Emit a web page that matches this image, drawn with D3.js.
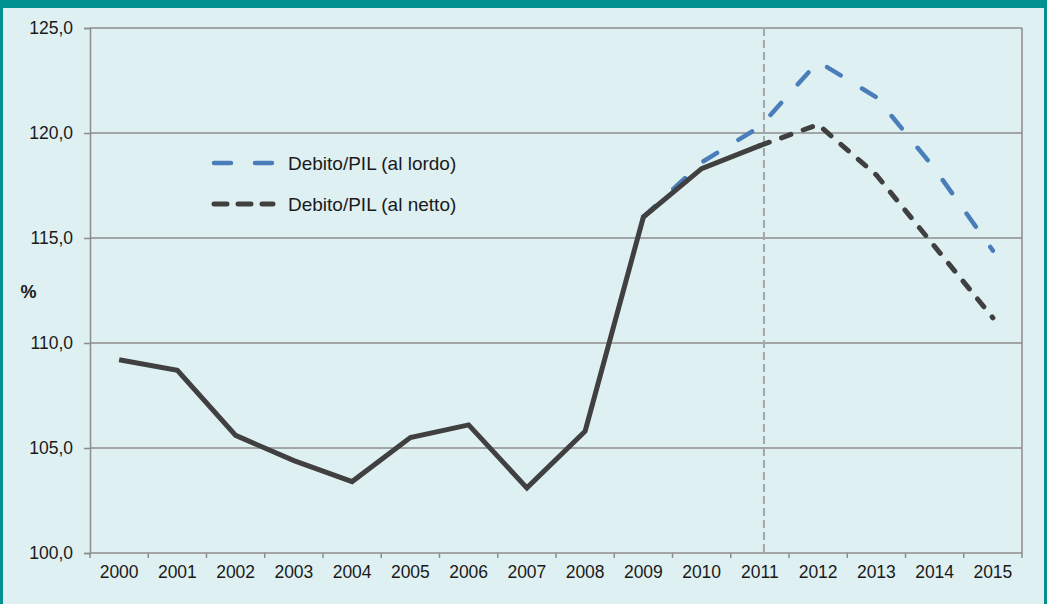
<!DOCTYPE html>
<html>
<head>
<meta charset="utf-8">
<script src="https://cdn.jsdelivr.net/npm/d3@7"></script>
<style>
  html, body { margin: 0; padding: 0; background: #dff0f2; }
  svg { display: block; font-family: "Liberation Sans", Arial, sans-serif; }
</style>
</head>
<body>
<svg id="chart" width="1047" height="604"></svg>
<script>
const years = ['2000', '2001', '2002', '2003', '2004', '2005', '2006', '2007', '2008',
  '2009', '2010', '2011', '2012', '2013', '2014', '2015'];
// storico (linea continua) 2000-2011
const storico = [109.2, 108.7, 105.6, 104.4, 103.4, 105.5, 106.1, 103.1, 105.8, 116.0, 118.3, 119.4];
// debito/PIL al lordo 2009-2015
const lordoYears = ['2009', '2010', '2011', '2012', '2013', '2014', '2015'];
const lordo = [116.0, 118.6, 120.3, 123.4, 121.7, 118.3, 114.4];
// debito/PIL al netto 2011-2015
const nettoYears = ['2011', '2012', '2013', '2014', '2015'];
const netto = [119.4, 120.4, 118.0, 114.6, 111.2];
const yTicks = [100, 105, 110, 115, 120, 125];

const W = 1047, H = 604;
const margin = { left: 90, right: 25, top: 28, bottom: 51 };
const svg = d3.select('#chart');

const x = d3.scaleBand().domain(years).range([margin.left, W - margin.right]);
const y = d3.scaleLinear().domain([100, 125]).range([H - margin.bottom, margin.top]);
const cx = (d) => x(d) + x.bandwidth() / 2;

// frame teal
svg.append('rect').attr('x', 0).attr('y', 0).attr('width', W).attr('height', 8).attr('fill', '#009190');
svg.append('rect').attr('x', 0).attr('y', 0).attr('width', 3).attr('height', H).attr('fill', '#009190');
svg.append('rect').attr('x', W - 3).attr('y', 0).attr('width', 3).attr('height', H).attr('fill', '#009190');

// gridlines
svg.append('g')
  .selectAll('line')
  .data(yTicks.slice(1))
  .join('line')
  .attr('x1', margin.left).attr('x2', W - margin.right)
  .attr('y1', (d) => y(d)).attr('y2', (d) => y(d))
  .attr('stroke', '#8c8c8c').attr('stroke-width', 1.5);

// right border
svg.append('line')
  .attr('x1', W - margin.right).attr('x2', W - margin.right)
  .attr('y1', y(125)).attr('y2', y(100))
  .attr('stroke', '#8c8c8c').attr('stroke-width', 1.5);

// vertical dashed line (inizio previsioni)
const xSep = x('2011') + x.bandwidth() * 0.57;
svg.append('line')
  .attr('x1', xSep).attr('x2', xSep)
  .attr('y1', y(125)).attr('y2', y(100))
  .attr('stroke', '#a6a6a6').attr('stroke-width', 2).attr('stroke-dasharray', '8,4');

// axes
const yAxis = svg.append('g')
  .attr('transform', `translate(${margin.left},0)`)
  .call(d3.axisLeft(y).tickValues(yTicks).tickSize(6).tickPadding(11)
    .tickFormat((d) => d3.format('.1f')(d).replace('.', ',')));
const xAxis = svg.append('g')
  .attr('transform', `translate(0,${H - margin.bottom})`)
  .call(d3.axisBottom(x).tickSize(0).tickPadding(13));

// x ticks at boundaries
svg.append('g')
  .selectAll('line')
  .data(years.concat(['end']))
  .join('line')
  .attr('x1', (d, i) => margin.left + i * x.bandwidth())
  .attr('x2', (d, i) => margin.left + i * x.bandwidth())
  .attr('y1', H - margin.bottom).attr('y2', H - margin.bottom + 5)
  .attr('stroke', '#8c8c8c').attr('stroke-width', 1.5);

[yAxis, xAxis].forEach((g) => {
  g.selectAll('.domain').attr('stroke', '#8c8c8c').attr('stroke-width', 1.5);
  g.selectAll('.tick line').attr('stroke', '#8c8c8c').attr('stroke-width', 1.5);
  g.selectAll('text').attr('font-size', 17.5).attr('fill', '#1a1a1a')
    .attr('font-family', '"Liberation Sans", Arial, sans-serif');
});
xAxis.select('.domain').attr('d', `M${margin.left},0H${W - margin.right}`);

svg.append('text')
  .attr('x', 28.5).attr('y', 298)
  .attr('text-anchor', 'middle')
  .attr('font-size', 18).attr('font-weight', 'bold').attr('fill', '#1a1a1a')
  .text('%');

const line = d3.line().x((d) => cx(d[0])).y((d) => y(d[1]));

// al lordo (blue dashed)
svg.append('path')
  .attr('d', line(lordoYears.map((yr, i) => [yr, lordo[i]])))
  .attr('fill', 'none').attr('stroke', '#4a7ebb').attr('stroke-width', 4.5)
  .attr('stroke-linecap', 'round').attr('stroke-dasharray', '16,25');

// al netto (black dashed)
svg.append('path')
  .attr('d', line(nettoYears.map((yr, i) => [yr, netto[i]])))
  .attr('fill', 'none').attr('stroke', '#404040').attr('stroke-width', 5)
  .attr('stroke-linecap', 'round').attr('stroke-dasharray', '10,13');

// storico (solid)
svg.append('path')
  .attr('d', line(storico.map((v, i) => [years[i], v])))
  .attr('fill', 'none').attr('stroke', '#404040').attr('stroke-width', 5)
  .attr('stroke-linejoin', 'miter');

// legend
const legend = [
  { label: 'Debito/PIL (al lordo)', color: '#4a7ebb', dash: '17,24', w: 4.5, y: 163 },
  { label: 'Debito/PIL (al netto)', color: '#404040', dash: '13,11', w: 5, y: 204 }
];
const lg = svg.append('g');
legend.forEach((d) => {
  lg.append('line')
    .attr('x1', 214).attr('x2', 273).attr('y1', d.y).attr('y2', d.y)
    .attr('stroke', d.color).attr('stroke-width', d.w)
    .attr('stroke-linecap', 'round').attr('stroke-dasharray', d.dash);
  lg.append('text')
    .attr('x', 288).attr('y', d.y + 7)
    .attr('font-size', 19).attr('fill', '#1a1a1a')
    .text(d.label);
});
</script>
</body>
</html>
